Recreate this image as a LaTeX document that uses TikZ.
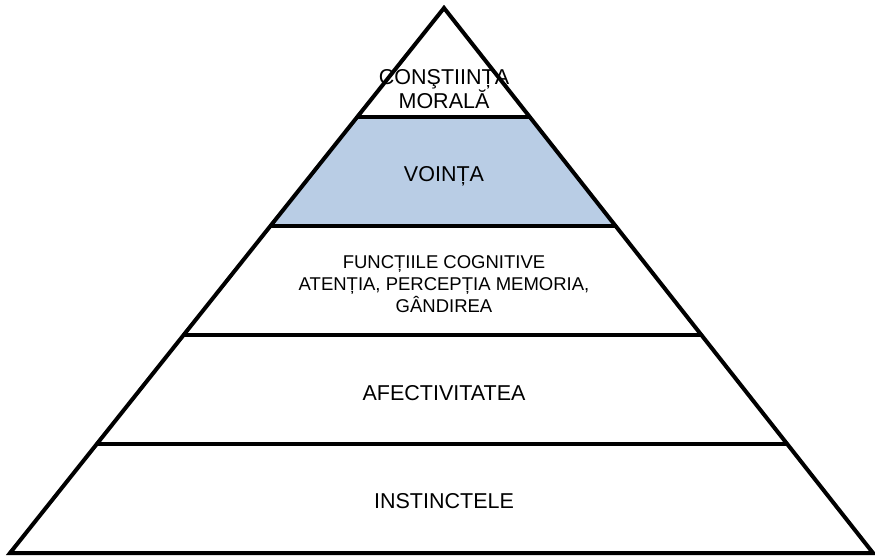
\documentclass[tikz,border=0pt]{standalone}
\usepackage{fontspec}
\setmainfont{Liberation Sans}
\usetikzlibrary{calc}
\definecolor{Ink}{HTML}{000000}
\definecolor{Will}{HTML}{B9CDE5}
\tikzset{
    levelline/.style={line width=4pt, color=Ink, line join=miter},
    leveltext/.style={align=center, text=Ink, font=\fontsize{21.5}{23}\selectfont, inner sep=0pt},
    smalltext/.style={leveltext, font=\fontsize{18.5}{22}\selectfont},
}
\begin{document}
\begin{tikzpicture}[x=1pt, y=-1pt]
    \useasboundingbox (0,0) rectangle (875,555);

    % --- corners of the pyramid ---
    \coordinate (apex) at (444,8);
    \coordinate (bl) at (10,553);
    \coordinate (br) at (873,553);

    % --- level points on both sides ---
    \foreach \i/\t in {1/0.2, 2/0.4, 3/0.6, 4/0.8} {
        \coordinate (l\i) at ($(apex)!\t!(bl)$);
        \coordinate (r\i) at ($(apex)!\t!(br)$);
    }

    % Banda colorata
    \fill[Will] (l1) -- (r1) -- (r2) -- (l2) -- cycle;

    % Contorno e livelli
    \draw[levelline] (apex) -- (br) -- (bl) -- cycle;
    \foreach \i in {1,...,4}
        \draw[levelline] (l\i) -- (r\i);

    % --- texts ---
    \node[leveltext] (morala) at (444,89) {CONŞTIINȚA\\MORALĂ};
    \node[leveltext] (vointa) at (444,176) {VOINȚA};
    \node[smalltext] (cognitive) at (444,284) {FUNCȚIILE COGNITIVE\\ATENȚIA, PERCEPȚIA MEMORIA,\\GÂNDIREA};
    \node[leveltext] (afect) at (444,393) {AFECTIVITATEA};
    \node[leveltext] (instinct) at (444,501) {INSTINCTELE};
\end{tikzpicture}
\end{document}
